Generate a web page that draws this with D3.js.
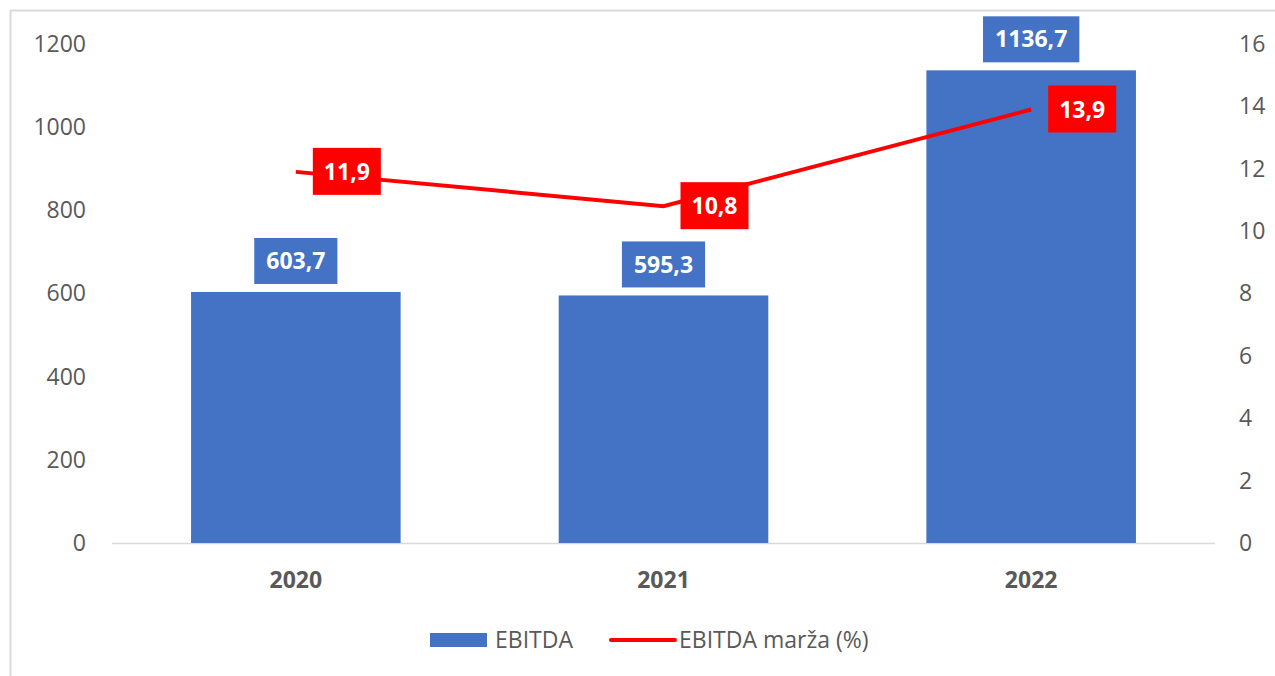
<!DOCTYPE html>
<html>
<head>
<meta charset="utf-8">
<script src="https://cdn.jsdelivr.net/npm/d3@7"></script>
<style>
  body { margin: 0; background: #fff; }
  text { font-family: "Open Sans", "Liberation Sans", sans-serif; }
</style>
</head>
<body>
<div id="chart"></div>
<script>
// data
var years = ["2020", "2021", "2022"];
var ebitda = [603.7, 595.3, 1136.7];
var marza = [11.9, 10.8, 13.9];
var leftTicks = [0, 200, 400, 600, 800, 1000, 1200];
var rightTicks = [0, 2, 4, 6, 8, 10, 12, 14, 16];

var width = 1275, height = 676;
var svg = d3.select("#chart").append("svg")
  .attr("width", width)
  .attr("height", height);

// outer frame
svg.append("path")
  .attr("d", "M10.5,676 L10.5,10.5 L1275,10.5")
  .attr("fill", "none")
  .attr("stroke", "#d9d9d9")
  .attr("stroke-width", 2);

var x = d3.scaleBand()
  .domain(years)
  .range([112, 1215])
  .paddingInner(0.43)
  .paddingOuter(0.215);

var yL = d3.scaleLinear().domain([0, 1200]).range([543, 44]);
var yR = d3.scaleLinear().domain([0, 16]).range([543, 44]);

// left axis
var leftAxis = svg.append("g")
  .attr("transform", "translate(86,0)")
  .call(d3.axisLeft(yL).tickValues(leftTicks).tickFormat(d3.format("d")).tickSize(0).tickPadding(0));
leftAxis.select(".domain").remove();
leftAxis.selectAll("text")
  .attr("fill", "#595959")
  .style("font-size", "23px");

// right axis
var rightAxis = svg.append("g")
  .attr("transform", "translate(1239,0)")
  .call(d3.axisRight(yR).tickValues(rightTicks).tickFormat(d3.format("d")).tickSize(0).tickPadding(0));
rightAxis.select(".domain").remove();
rightAxis.selectAll("text")
  .attr("fill", "#595959")
  .style("font-size", "23px");

// baseline
svg.append("line")
  .attr("x1", 112).attr("x2", 1215)
  .attr("y1", yL(0) + 0.5).attr("y2", yL(0) + 0.5)
  .attr("stroke", "#d9d9d9")
  .attr("stroke-width", 1.5);

// x axis labels
var xAxis = svg.append("g")
  .attr("transform", "translate(0,565)")
  .call(d3.axisBottom(x).tickSize(0).tickPadding(0));
xAxis.select(".domain").remove();
xAxis.selectAll("text")
  .attr("fill", "#595959")
  .attr("dy", "1em")
  .style("font-size", "23px")
  .style("font-weight", "bold");

// bars
svg.append("g")
  .selectAll("rect")
  .data(ebitda)
  .enter()
  .append("rect")
    .attr("x", function(d, i) { return x(years[i]); })
    .attr("y", function(d) { return yL(d); })
    .attr("width", x.bandwidth())
    .attr("height", function(d) { return yL(0) - yL(d); })
    .attr("fill", "#4472C4");

// line
var line = d3.line()
  .x(function(d, i) { return x(years[i]) + x.bandwidth() / 2; })
  .y(function(d) { return yR(d); });

svg.append("path")
  .datum(marza)
  .attr("d", line)
  .attr("fill", "none")
  .attr("stroke", "#FF0000")
  .attr("stroke-width", 4);

function fmt(v) { return d3.format(".1f")(v).replace(".", ","); }

// bar value labels
var barLabels = svg.append("g")
  .selectAll("g")
  .data(ebitda)
  .enter()
  .append("g")
    .attr("transform", function(d, i) {
      return "translate(" + (x(years[i]) + x.bandwidth() / 2) + "," + (yL(d) - 31) + ")";
    });
barLabels.append("text")
  .attr("text-anchor", "middle")
  .attr("dy", "0.35em")
  .attr("fill", "#fff")
  .style("font-size", "23px")
  .style("font-weight", "bold")
  .text(function(d) { return fmt(d); });
barLabels.insert("rect", "text")
  .each(function() {
    var bb = this.parentNode.querySelector("text").getBBox();
    d3.select(this)
      .attr("x", bb.x - 12).attr("y", -23)
      .attr("width", bb.width + 24).attr("height", 46)
      .attr("fill", "#4472C4");
  });

// margin labels
var lineLabels = svg.append("g")
  .selectAll("g")
  .data(marza)
  .enter()
  .append("g")
    .attr("transform", function(d, i) {
      return "translate(" + (x(years[i]) + x.bandwidth() / 2 + 17) + "," + yR(d) + ")";
    });
lineLabels.append("text")
  .attr("x", 11)
  .attr("dy", "0.35em")
  .attr("fill", "#fff")
  .style("font-size", "23px")
  .style("font-weight", "bold")
  .text(function(d) { return fmt(d); });
lineLabels.insert("rect", "text")
  .each(function() {
    var bb = this.parentNode.querySelector("text").getBBox();
    d3.select(this)
      .attr("x", 0).attr("y", -24)
      .attr("width", bb.width + 22).attr("height", 47)
      .attr("fill", "#FF0000");
  });

// legend
var legend = svg.append("g").attr("transform", "translate(0,640)");
legend.append("rect")
  .attr("x", 430).attr("y", -7)
  .attr("width", 57).attr("height", 14)
  .attr("fill", "#4472C4");
legend.append("text")
  .attr("x", 495).attr("dy", "0.35em")
  .attr("fill", "#595959")
  .style("font-size", "23px")
  .text("EBITDA");
legend.append("line")
  .attr("x1", 611).attr("x2", 675)
  .attr("y1", 0).attr("y2", 0)
  .attr("stroke", "#FF0000")
  .attr("stroke-width", 4)
  .attr("stroke-linecap", "round");
legend.append("text")
  .attr("x", 679).attr("dy", "0.35em")
  .attr("fill", "#595959")
  .style("font-size", "23px")
  .text("EBITDA marža (%)");
</script>
</body>
</html>
